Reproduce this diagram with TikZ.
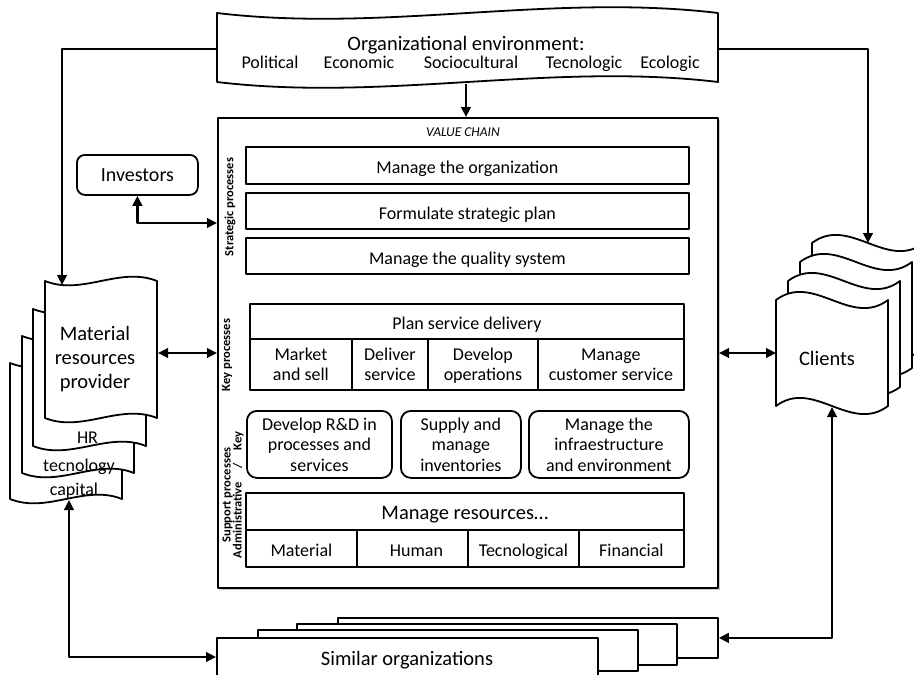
\documentclass[tikz,border=0pt]{standalone}
\usepackage{fontspec}
\setmainfont{Carlito}
\usetikzlibrary{arrows.meta,shadows}
\newcommand\wavdoc[5]{%
  \pgfmathsetmacro\wdXa{#1+#3/3}%
  \pgfmathsetmacro\wdXb{#1+2*#3/3}%
  \pgfmathsetmacro\wdXc{#1+#3}%
  \pgfmathsetmacro\wdYa{#2+#5}%
  \pgfmathsetmacro\wdYb{#2-#5}%
  \pgfmathsetmacro\wdYd{#2+#4}%
  \pgfmathsetmacro\wdYe{#2+#4+#5}%
  \pgfmathsetmacro\wdYf{#2+#4-#5}%
  \path[docl] (#1,#2) .. controls (\wdXa,\wdYa) and (\wdXb,\wdYb) .. (\wdXc,#2) -- (\wdXc,\wdYd) .. controls (\wdXb,\wdYf) and (\wdXa,\wdYe) .. (#1,\wdYd) -- cycle;%
}
\newcommand\nodesc[1]{\raisebox{0pt}[\height][0pt]{#1}}
\begin{document}
\begin{tikzpicture}[x=1pt,y=-1pt,line join=round,
  docl/.style={draw,fill=white,line width=1.8pt},
  mbx/.style={draw,line width=1.8pt,fill=white,inner sep=1pt,align=center,anchor=north west,font=\fontsize{18}{20.5}\selectfont},
  bx/.style={mbx,text height=17pt,text depth=0pt},
  rbx/.style={mbx,rounded corners=10pt},
  lbl/.style={font=\fontsize{12.5}{11}\selectfont\bfseries,rotate=90,align=center,inner sep=0pt},
  txt/.style={font=\fontsize{18}{20.5}\selectfont,anchor=base,inner sep=0pt},
  big/.style={font=\fontsize{20.5}{24}\selectfont,inner sep=0pt},
  con/.style={line width=2.8pt,-{Triangle[length=10pt,width=9.5pt]}},
  con2/.style={line width=2.8pt,{Triangle[length=10pt,width=9.5pt]}-{Triangle[length=10pt,width=9.5pt]}},
]
\useasboundingbox (0,0) rectangle (914,675);
\clip (0,0) rectangle (914,675);
\fill[white] (0,0) rectangle (914,675);

% ---- Organizational environment banner
\wavdoc{217}{13}{501}{69}{20}
\node[big,anchor=base] (envt) at (466,50) {Organizational environment:};
\foreach \t/\x [count=\i] in {Political/270,Economic/359,Sociocultural/471,Tecnologic/584,Ecologic/670}
  \node[txt] (env\i) at (\x,68.5) {\t};
\coordinate (envL) at (217,49);
\coordinate (envR) at (718,49);
\coordinate (envB) at (466,84);

% ---- Value chain
\node[draw,line width=2pt,fill=white,minimum width=500pt,minimum height=470pt,anchor=north west,inner sep=0pt,
  drop shadow={shadow xshift=2pt,shadow yshift=-2pt,opacity=0.35,fill=black!60}] (vc) at (217,117) {};
\node[font=\fontsize{13.5}{15}\selectfont\itshape,anchor=base,inner sep=0pt] (vct) at (463,136) {VALUE CHAIN};

\node[lbl] (stlbl) at (230,207) {Strategic processes};
\node[bx,minimum width=443pt,minimum height=37pt] (s1) at (245,146) {Manage the organization};
\node[bx,minimum width=443pt,minimum height=36pt] (s2) at (245,192) {Formulate strategic plan};
\node[bx,minimum width=443pt,minimum height=36pt] (s3) at (245,237) {Manage the quality system};

\node[lbl] (kplbl) at (227,355) {Key processes};
\node[bx,minimum width=434pt,minimum height=35pt] (k0) at (249,303) {Plan service delivery};
\node[mbx,minimum width=102pt,minimum height=51pt] (k1) at (249,338) {Market\\and sell};
\node[mbx,minimum width=76pt,minimum height=51pt] (k2) at (351,338) {Deliver\\service};
\node[mbx,minimum width=110pt,minimum height=51pt] (k3) at (427,338) {Develop\\\nodesc{operations}};
\node[mbx,minimum width=146pt,minimum height=51pt] (k4) at (537,338) {\vphantom{l}Manage\\customer service};

\node[lbl] (suplbl) at (233,495) {Support processes\\Administrative\hspace{13pt}/\hspace{13pt}Key};
\node[rbx,minimum width=145pt,minimum height=67pt] (r1) at (246,410) {Develop R\&D in\\processes and\\services};
\node[rbx,minimum width=120pt,minimum height=67pt] (r2) at (400,410) {Supply and\\manage\\inventories};
\node[rbx,minimum width=160pt,minimum height=67pt] (r3) at (528,410) {Manage the\\infraestructure\\and environment};

\node[bx,minimum width=438pt,minimum height=37pt,font=\fontsize{20.5}{24}\selectfont] (m0) at (245,492) {Manage resources\dots};
\node[bx,minimum width=111pt,minimum height=37pt] (m1) at (245,529) {Material};
\node[bx,minimum width=111pt,minimum height=37pt] (m2) at (356,529) {\hspace{8pt}Human};
\node[bx,minimum width=111pt,minimum height=37pt] (m3) at (467,529) {Tecnological};
\node[bx,minimum width=105pt,minimum height=37pt] (m4) at (578,529) {Financial};

% ---- Investors
\node[draw,line width=1.8pt,rounded corners=8pt,minimum width=121pt,minimum height=40pt,anchor=north west,
  font=\fontsize{20}{24}\selectfont] (inv) at (76,154) {Investors};
\coordinate (vcInv) at (217,223);

% ---- Material resources provider stack
\wavdoc{10}{363}{112}{136}{15}
\wavdoc{22}{336}{112}{137}{15}
\wavdoc{33}{309}{113}{137}{15}
\wavdoc{45}{281}{112}{137}{15}
\node[big,align=center] (provt) at (95,359) {Material\\resources\\provider};
\node[txt] (hr) at (87.5,443) {HR};
\node[txt] (tec) at (79,471.5) {tecnology};
\node[txt] (cap) at (74,495) {capital};
\coordinate (provT) at (62,285);
\coordinate (provR) at (158,353);
\coordinate (provB) at (69,500);

% ---- Clients stack
\wavdoc{812}{243}{112}{106}{-28}
\wavdoc{800}{262}{112}{106}{-28}
\wavdoc{788}{281}{112}{106}{-28}
\wavdoc{776}{300}{112}{106}{-28}
\node[big,anchor=base] (clit) at (827,365) {Clients};
\coordinate (cliT) at (868,243);
\coordinate (cliL) at (776,353);
\coordinate (cliB) at (832,407);

% ---- Similar organizations stack
\node[draw,line width=1.8pt,fill=white,minimum width=380pt,minimum height=40pt,anchor=north west] (sim4) at (337,617) {};
\node[draw,line width=1.8pt,fill=white,minimum width=380pt,minimum height=41pt,anchor=north west] (sim3) at (296,623) {};
\node[draw,line width=1.8pt,fill=white,minimum width=380pt,minimum height=41pt,anchor=north west] (sim2) at (257,629) {};
\node[draw,line width=1.8pt,fill=white,minimum width=381pt,minimum height=46pt,anchor=north west] (sim1) at (216,637) {};
\node[big,anchor=base] (simt) at (407,665) {Similar organizations};
\coordinate (simY) at (0,657);

% ---- Connectors
\draw[con] (envB) -- (vc.north -| envB);
\draw[con] (envL) -| (provT);
\draw[con] (envR) -| (cliT);
\draw[con2] (inv.south) |- (vcInv);
\draw[con2] (provR) -- (vc.west |- provR);
\draw[con2] (vc.east |- cliL) -- (cliL);
\draw[con2] (provB) |- (sim1.west |- simY);
\draw[con2] (cliB) |- (sim4.east);
\end{tikzpicture}
\end{document}
